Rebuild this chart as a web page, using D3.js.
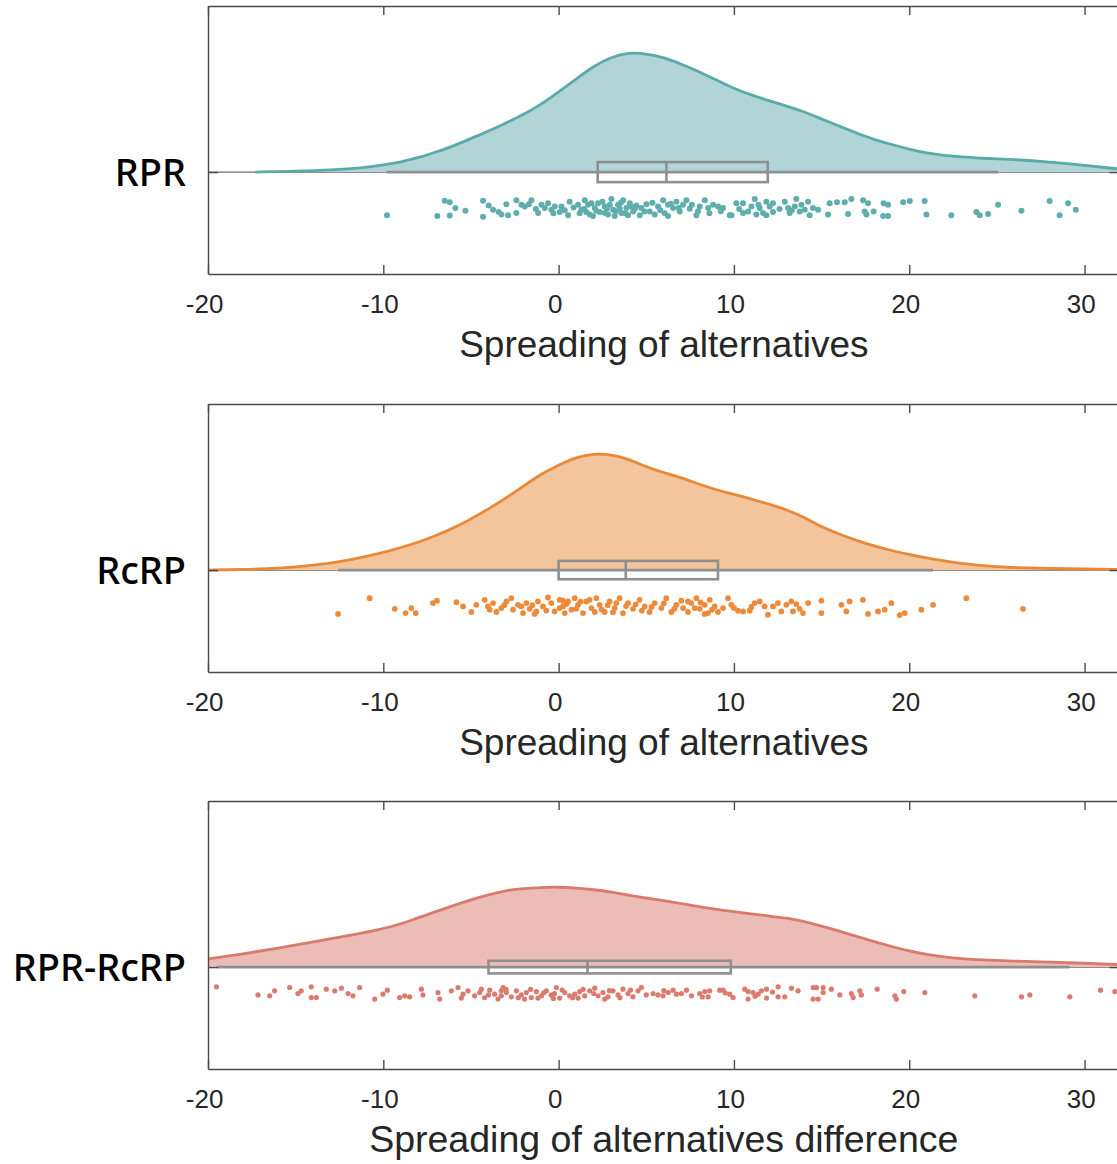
<!DOCTYPE html>
<html>
<head>
<meta charset="utf-8">
<script src="https://cdn.jsdelivr.net/npm/d3@7"></script>
<style>
  body { margin: 0; background: #ffffff; }
  svg { display: block; }
</style>
</head>
<body>
<svg id="chart" width="1117" height="1164"></svg>
<script>
// ---------------------------------------------------------------
// Data
// ---------------------------------------------------------------
const groupNames = ["RPR", "RcRP", "RPR-RcRP"];
const axisTitles = [
  "Spreading of alternatives",
  "Spreading of alternatives",
  "Spreading of alternatives difference"
];
const xTicks = [-20, -10, 0, 10, 20, 30];

// Kernel density of each group: [value, density]
const cloudRPR = [
  [-17.3, 0], [-15, 0.0004], [-13, 0.0009], [-11, 0.0021], [-10, 0.0032], [-9, 0.0046],
  [-8, 0.0066], [-7, 0.0092], [-6, 0.0119], [-5, 0.0154], [-4, 0.0188], [-3, 0.0225],
  [-2, 0.0264], [-1, 0.0309], [0, 0.0367], [1, 0.0426], [2, 0.0486], [3, 0.0527],
  [4, 0.0548], [5, 0.0543], [6, 0.0525], [7, 0.0495], [8, 0.0461], [9, 0.0422],
  [10, 0.0383], [11, 0.0353], [12, 0.0327], [13, 0.0302], [14, 0.0277], [15, 0.0243],
  [16, 0.0211], [17, 0.0179], [18, 0.0149], [19, 0.0126], [20, 0.0105], [21, 0.0087],
  [22, 0.0076], [23, 0.0069], [24, 0.0064], [25, 0.0061], [26, 0.0057], [27, 0.0052],
  [28, 0.0046], [29, 0.0039], [30, 0.0031], [31, 0.0022], [32, 0.0014]
];
const cloudRcRP = [
  [-20, 0], [-18, 0.0002], [-16, 0.0008], [-14, 0.0021], [-12, 0.0044], [-10, 0.0080],
  [-9, 0.0103], [-8, 0.0128], [-7, 0.0158], [-6, 0.0192], [-5, 0.0234], [-4, 0.0280],
  [-3, 0.0330], [-2, 0.0385], [-1, 0.0440], [0, 0.0481], [1, 0.0518], [2, 0.0534],
  [3, 0.0529], [4, 0.0509], [5, 0.0472], [6, 0.0447], [7, 0.0423], [8, 0.0394],
  [9, 0.0367], [10, 0.0347], [11, 0.0326], [12, 0.0302], [13, 0.0277], [14, 0.0243],
  [15, 0.0197], [16, 0.0165], [17, 0.0135], [18, 0.0110], [19, 0.0089], [20, 0.0072],
  [21, 0.0055], [22, 0.0042], [23, 0.0030], [24, 0.0021], [25, 0.0016], [26, 0.0011],
  [28, 0.0007], [30, 0.0005], [32, 0.0003]
];
const cloudDiff = [
  [-20, 0.0037], [-18, 0.0060], [-16, 0.0087], [-14, 0.0115], [-12, 0.0144], [-10, 0.0176],
  [-9, 0.0197], [-8, 0.0227], [-7, 0.0254], [-6, 0.0282], [-5, 0.0309], [-4, 0.0332],
  [-3, 0.0351], [-2, 0.0360], [-1, 0.0365], [0, 0.0367], [1, 0.0362], [2, 0.0355],
  [3, 0.0344], [4, 0.0330], [5, 0.0316], [6, 0.0305], [7, 0.0291], [8, 0.0277],
  [9, 0.0264], [10, 0.0254], [11, 0.0243], [12, 0.0234], [13, 0.0225], [14, 0.0209],
  [15, 0.0188], [16, 0.0165], [17, 0.0140], [18, 0.0117], [19, 0.0094], [20, 0.0073],
  [21, 0.0057], [22, 0.0046], [23, 0.0038], [24, 0.0033], [26, 0.0027], [28, 0.0023],
  [30, 0.0018], [32, 0.0011]
];

// Box plot summaries: [min, q1, median, q3, max]
const statsRPR  = [-9.82, 2.23, 6.15, 11.93, 25.07];
const statsRcRP = [-12.58, 0.0, 3.83, 9.09, 21.36];
const statsDiff = [-19.5, -4.0, 1.65, 9.82, 29.14];

// Individual observations: [value, vertical jitter (0 = top of band, 1 = bottom)]
const rainRPR = [
  [-9.79,.79],[-6.92,.83],[-6.5,.11],[-6.21,.18],[-5.89,.45],[-6.21,.8],[-5.32,.58],[-4.31,.11],
  [-4.31,.86],[-3.99,.33],[-3.74,.53],[-3.42,.64],[-3.26,.76],[-2.98,.27],[-2.88,.79],[-2.41,.08],
  [-2.41,.68],[-2.12,.3],[-1.93,.38],[-1.55,.08],[-1.7,.27],[-1.17,.68],[-0.98,.3],[-0.79,.45],
  [-0.6,.23],[-0.41,.53],[-0.22,.38],[0.06,.64],[0.16,.38],[0.54,.79],[0.63,.15],[1.3,.53],
  [1.49,.08],[1.68,.3],[1.77,.76],[2.06,.45],[2.25,.23],[2.35,.64],[2.63,.38],[2.82,.76],
  [3.01,.03],[3.11,.53],[3.39,.3],[3.58,.68],[3.68,.08],[3.87,.45],[4.06,.23],[4.25,.61],
  [4.44,.33],[4.63,.79],[4.72,.45],[5.01,.27],[5.2,.61],[5.48,.76],[5.67,.38],[5.96,.08],
  [6.24,.3],[6.24,.83],[6.53,.45],[6.72,.15],[6.91,.61],[7.1,.3],[7.29,.08],[7.48,.48],
  [7.86,.79],[8.05,.38],[8.34,.08],[8.53,.45],[8.81,.3],[9.1,.38],[9.38,.45],[9.76,.79],
  [1.11,.3],[1.58,.64],[1.96,.83],[2.63,.68],[2.92,.3],[3.2,.83],[3.96,.79],[4.15,.38],
  [3.49,.48],[1.87,.23],
  [0.35,.55],[0.85,.42],[1.2,.7],[1.45,.5],[2.15,.58],[2.5,.15],[2.75,.5],[3.25,.6],
  [3.55,.2],[3.8,.7],[4.35,.5],[4.9,.62],[5.35,.2],[5.8,.55],[6.05,.7],[6.4,.25],
  [6.85,.45],[7.6,.3],[7.95,.6],[8.6,.7],[9.25,.6],[-0.3,.7],[-1.3,.5],[12.6,.5],
  [13.3,.55],[11.4,.3],[10.3,.5],
  [9.86,.79],[10.14,.23],[10.52,.23],[10.52,.68],[10.81,.61],[11.0,.38],[11.19,.03],[11.28,.76],
  [11.47,.45],[11.66,.68],[11.85,.15],[11.85,.79],[12.04,.38],[12.23,.23],[12.23,.64],[12.9,.15],
  [13.09,.45],[13.18,.68],[13.47,.38],[13.56,.03],[13.75,.61],[13.85,.3],[14.04,.53],[14.23,.15],
  [14.32,.79],[14.51,.45],[14.8,.53],[15.37,.76],[15.46,.23],[15.88,.18],[16.32,.18],[16.51,.73],
  [16.7,.03],[17.37,.08],[17.46,.61],[17.56,.76],[17.65,.23],[17.97,.61],[18.54,.23],[18.51,.83],
  [18.79,.3],[18.79,.83],[19.65,.18],[20.03,.12],[20.88,.12],[20.98,.76],[22.4,.79],[23.83,.64],
  [24.02,.79],[24.5,.73],[25.07,.3],[26.4,.58],[28.01,.12],[28.58,.79],[29.06,.23],[29.5,.53]
];
const rainRcRP = [
  [-12.58,.94],[-10.78,.06],[-9.35,.65],[-8.73,.89],[-8.4,.61],[-8.15,.89],[-7.17,.33],[-6.94,.2],
  [-5.83,.28],[-5.45,.52],[-4.98,.83],[-4.69,.43],[-4.22,.15],[-4.03,.52],[-3.74,.33],[-3.55,.83],
  [-3.27,.61],[-2.98,.24],[-2.7,.06],[-2.6,.7],[-2.32,.43],[-2.03,.89],[-1.84,.33],[-1.65,.65],
  [-1.37,.94],[-1.18,.24],[-0.89,.52],[-0.61,.02],[-0.41,.33],[-0.23,.8],[0.06,.15],[0.25,.52],
  [0.54,.24],[0.73,.7],[0.92,.06],[1.11,.43],[1.39,.89],[1.58,.24],[1.87,.61],[2.15,.06],
  [2.34,.43],[2.63,.83],[2.91,.24],[3.2,.61],[3.48,.06],[3.67,.89],[3.96,.33],[4.24,.65],
  [4.62,.15],[4.91,.52],[5.19,.83],[5.48,.33],[5.86,.61],[6.14,.06],[6.43,.83],[6.72,.43],
  [7.1,.61],[7.38,.24],[0.06,.61],[0.35,.89],[1.77,.15],[2.06,.83],[0.25,.2],[-3.93,.7],
  [-2.13,.52],[3.29,.33],[-1.27,.8],
  [-3.1,.45],[-1.5,.45],[-0.7,.75],[0.45,.38],[1.0,.65],[1.25,.25],[2.45,.68],[2.8,.45],
  [3.1,.85],[3.85,.5],[4.4,.4],[4.75,.75],[5.3,.55],[6.0,.35],[6.6,.65],[7.0,.2],
  [8.1,.3],[8.75,.7],[10.0,.6],[11.0,.55],
  [7.38,.83],[7.57,.33],[7.86,.06],[8.05,.65],[8.33,.43],[8.52,.89],[8.62,.15],[8.9,.52],
  [9.09,.83],[9.66,.06],[9.85,.43],[10.23,.76],[10.52,.8],[10.9,.76],[11.18,.33],[11.47,.24],
  [11.75,.52],[11.94,.98],[12.23,.52],[12.51,.33],[12.7,.8],[12.99,.43],[13.27,.24],[13.37,.8],
  [13.75,.65],[13.94,.89],[14.23,.33],[14.99,.2],[14.99,.89],[16.13,.43],[16.41,.8],[16.6,.24],
  [17.36,.15],[17.65,.94],[18.22,.8],[18.6,.7],[18.98,.33],[19.45,1.0],[19.74,.89],[20.69,.7],
  [21.36,.43],[23.26,.06],[26.49,.65],[7.76,.61],[9.38,.61],[8.33,.94],[13.56,.39]
];
const rainDiff = [
  [-19.52,.02],[-17.15,.6],[-16.48,.67],[-16.2,.31],[-15.34,.07],[-14.87,.5],[-14.68,.31],[-14.11,.02],
  [-14.11,.79],[-13.82,.79],[-13.25,.19],[-12.77,.31],[-12.39,.12],[-12.01,.5],[-11.73,.67],[-11.35,.07],
  [-10.49,.9],[-10.02,.55],[-9.77,.26],[-9.07,.79],[-8.78,.67],[-8.5,.74],[-7.83,.19],[-7.74,.6],
  [-6.88,.43],[-6.78,.9],[-6.12,.31],[-5.74,.07],[-5.45,.55],[-5.17,.31],[-4.79,.67],[-4.5,.43],
  [-4.22,.79],[-3.93,.26],[-3.65,.55],[-3.46,.9],[-3.17,.07],[-2.98,.43],[-2.7,.74],[-2.41,.31],
  [-2.13,.6],[-1.84,.43],[-1.56,.79],[-1.27,.36],[-0.98,.67],[-0.7,.31],[-0.42,.6],[-0.13,.07],
  [0.06,.83],[0.35,.43],[0.63,.67],[0.92,.55],[1.2,.36],[1.49,.67],[1.77,.31],[2.06,.12],
  [2.25,.67],[2.53,.43],[2.82,.74],[3.1,.31],[3.39,.6],[3.67,.19],[3.96,.5],[4.24,.74],
  [4.53,.31],[4.72,.07],[5.39,.5],[5.67,.6],[-5.55,.83],[-4.41,.19],[-3.27,.67],[-1.94,.9],
  [-1.18,.83],[-0.23,.5],[1.11,.83],[2.63,.9],[-3.27,.31],
  [-4.0,.6],[-3.0,.2],[-2.3,.8],[-1.6,.2],[-0.85,.45],[-0.3,.85],[0.2,.25],[0.8,.8],
  [1.4,.2],[2.0,.5],[2.9,.3],[3.5,.8],[4.1,.25],[5.0,.6],[6.0,.3],[7.0,.5],
  [8.2,.75],[9.5,.45],[11.2,.7],[12.2,.4],
  [5.96,.67],[6.25,.43],[6.53,.26],[6.72,.55],[7.29,.26],[7.58,.67],[8.05,.5],[8.34,.36],
  [8.62,.31],[8.53,.74],[9.19,.26],[9.38,.26],[9.76,.55],[9.95,.79],[10.62,.19],[10.81,.36],
  [10.81,.9],[11.09,.43],[11.38,.55],[11.57,.31],[11.86,.19],[11.86,.83],[12.52,.02],[12.52,.74],
  [12.9,.74],[13.28,.12],[13.66,.31],[14.52,.07],[14.52,.9],[14.8,.9],[15.09,.43],[15.56,.19],
  [16.04,.6],[16.7,.5],[16.8,.79],[17.18,.31],[17.27,.6],[18.17,.19],[19.18,.67],[19.27,.9],
  [19.69,.36],[20.89,.43],[23.74,.67],[26.4,.74],[26.88,.6],[29.16,.74],[30.91,.26],[31.73,.36],
  [15.09,.07],[14.71,.07]
];

// ---------------------------------------------------------------
// Layout and styling
// ---------------------------------------------------------------
const panels = [
  { name: groupNames[0], title: axisTitles[0], cloud: cloudRPR,  stats: statsRPR,  rain: rainRPR,
    line: "#5aaaa9", fill: "#b1d5d6", dot: "#5faead",
    top: 6,   boxHalf: 0.0046, rainBand: [-0.0121, -0.0218], dotR: 3.0, titleSize: 37 },
  { name: groupNames[1], title: axisTitles[1], cloud: cloudRcRP, stats: statsRcRP, rain: rainRcRP,
    line: "#e8893a", fill: "#f4c59c", dot: "#eb8b3b",
    top: 404, boxHalf: 0.0042, rainBand: [-0.0124, -0.0206], dotR: 2.9, titleSize: 37 },
  { name: groupNames[2], title: axisTitles[2], cloud: cloudDiff, stats: statsDiff, rain: rainDiff,
    line: "#d97a6c", fill: "#ecbdb7", dot: "#db7b6e",
    top: 801, boxHalf: 0.0029, rainBand: [-0.0089, -0.0153], dotR: 2.6, titleSize: 37.5 }
];

const panelH = 268;
const left = 208;
const right = 1119.6;
const yDomain = [-0.0467, 0.0761];
const axisColor = "#4a4a4a";
const textColor = "#262626";
const boxColor = "#8f8f8f";

const svg = d3.select("#chart");
const x = d3.scaleLinear().domain([-20, 32]).range([left, right]);

panels.forEach(p => {
  const y = d3.scaleLinear().domain(yDomain).range([p.top + panelH, p.top]);
  const g = svg.append("g");

  // Area baseline at zero density
  g.append("line")
    .attr("x1", x(-20)).attr("x2", x(32))
    .attr("y1", y(0)).attr("y2", y(0))
    .attr("stroke", "#6a6a6a").attr("stroke-width", 1.2);

  // Cloud (density)
  const area = d3.area()
    .x(d => x(d[0]))
    .y0(y(0))
    .y1(d => y(d[1]))
    .curve(d3.curveBasis);
  const lineGen = d3.line()
    .x(d => x(d[0]))
    .y(d => y(d[1]))
    .curve(d3.curveBasis);

  g.append("path").datum(p.cloud)
    .attr("d", area)
    .attr("fill", p.fill);
  g.append("path").datum(p.cloud)
    .attr("d", lineGen)
    .attr("fill", "none")
    .attr("stroke", p.line)
    .attr("stroke-width", 2.8)
    .attr("stroke-linejoin", "round");

  // Box plot: whiskers, box, median
  const [mn, q1, med, q3, mx] = p.stats;
  g.append("line")
    .attr("x1", x(mn)).attr("x2", x(mx))
    .attr("y1", y(0)).attr("y2", y(0))
    .attr("stroke", boxColor).attr("stroke-width", 2.6);
  g.append("rect")
    .attr("x", x(q1)).attr("y", y(p.boxHalf))
    .attr("width", x(q3) - x(q1))
    .attr("height", y(-p.boxHalf) - y(p.boxHalf))
    .attr("fill", "none")
    .attr("stroke", boxColor).attr("stroke-width", 2.6);
  g.append("line")
    .attr("x1", x(med)).attr("x2", x(med))
    .attr("y1", y(p.boxHalf)).attr("y2", y(-p.boxHalf))
    .attr("stroke", boxColor).attr("stroke-width", 2.6);

  // Rain (individual observations)
  const bandTop = y(p.rainBand[0]);
  const bandBot = y(p.rainBand[1]);
  g.append("g").selectAll("circle")
    .data(p.rain)
    .join("circle")
    .attr("cx", d => x(d[0]))
    .attr("cy", d => bandTop + d[1] * (bandBot - bandTop))
    .attr("r", p.dotR)
    .attr("fill", p.dot);

  // Axes frame
  const bottom = p.top + panelH;
  const xAxisB = d3.axisBottom(x).tickValues(xTicks)
    .tickSizeInner(-9).tickSizeOuter(0).tickPadding(21)
    .tickFormat(d => String(d));
  const gb = g.append("g")
    .attr("transform", `translate(0,${bottom})`)
    .call(xAxisB);
  gb.selectAll("text")
    .attr("font-family", "'Liberation Sans', Arial, Helvetica, sans-serif")
    .attr("font-size", 26)
    .attr("fill", textColor)
    .attr("dx", "-0.15em");

  const xAxisT = d3.axisTop(x).tickValues(xTicks)
    .tickSizeInner(-9).tickSizeOuter(0).tickFormat("");
  g.append("g")
    .attr("transform", `translate(0,${p.top})`)
    .call(xAxisT);

  const yAxisL = d3.axisLeft(y).tickValues([0])
    .tickSizeInner(-10).tickSizeOuter(0).tickPadding(22)
    .tickFormat(() => p.name);
  const gl = g.append("g")
    .attr("transform", `translate(${left},0)`)
    .call(yAxisL);
  gl.selectAll("text")
    .attr("font-family", "'Noto Sans', 'Open Sans', sans-serif")
    .attr("font-size", 38)
    .attr("font-weight", 500)
    .attr("fill", "#000")
    .attr("dy", "0.36em");

  const yAxisR = d3.axisRight(y).tickValues([0])
    .tickSizeInner(-10).tickSizeOuter(0).tickFormat("");
  g.append("g")
    .attr("transform", `translate(${right},0)`)
    .call(yAxisR);

  g.selectAll(".domain, .tick line")
    .attr("stroke", axisColor)
    .attr("stroke-width", 1.4);

  // Axis title
  g.append("text")
    .attr("x", (left + right) / 2)
    .attr("y", bottom + 83)
    .attr("text-anchor", "middle")
    .attr("font-family", "'Liberation Sans', Arial, Helvetica, sans-serif")
    .attr("font-size", p.titleSize)
    .attr("fill", textColor)
    .text(p.title);
});
</script>
</body>
</html>
